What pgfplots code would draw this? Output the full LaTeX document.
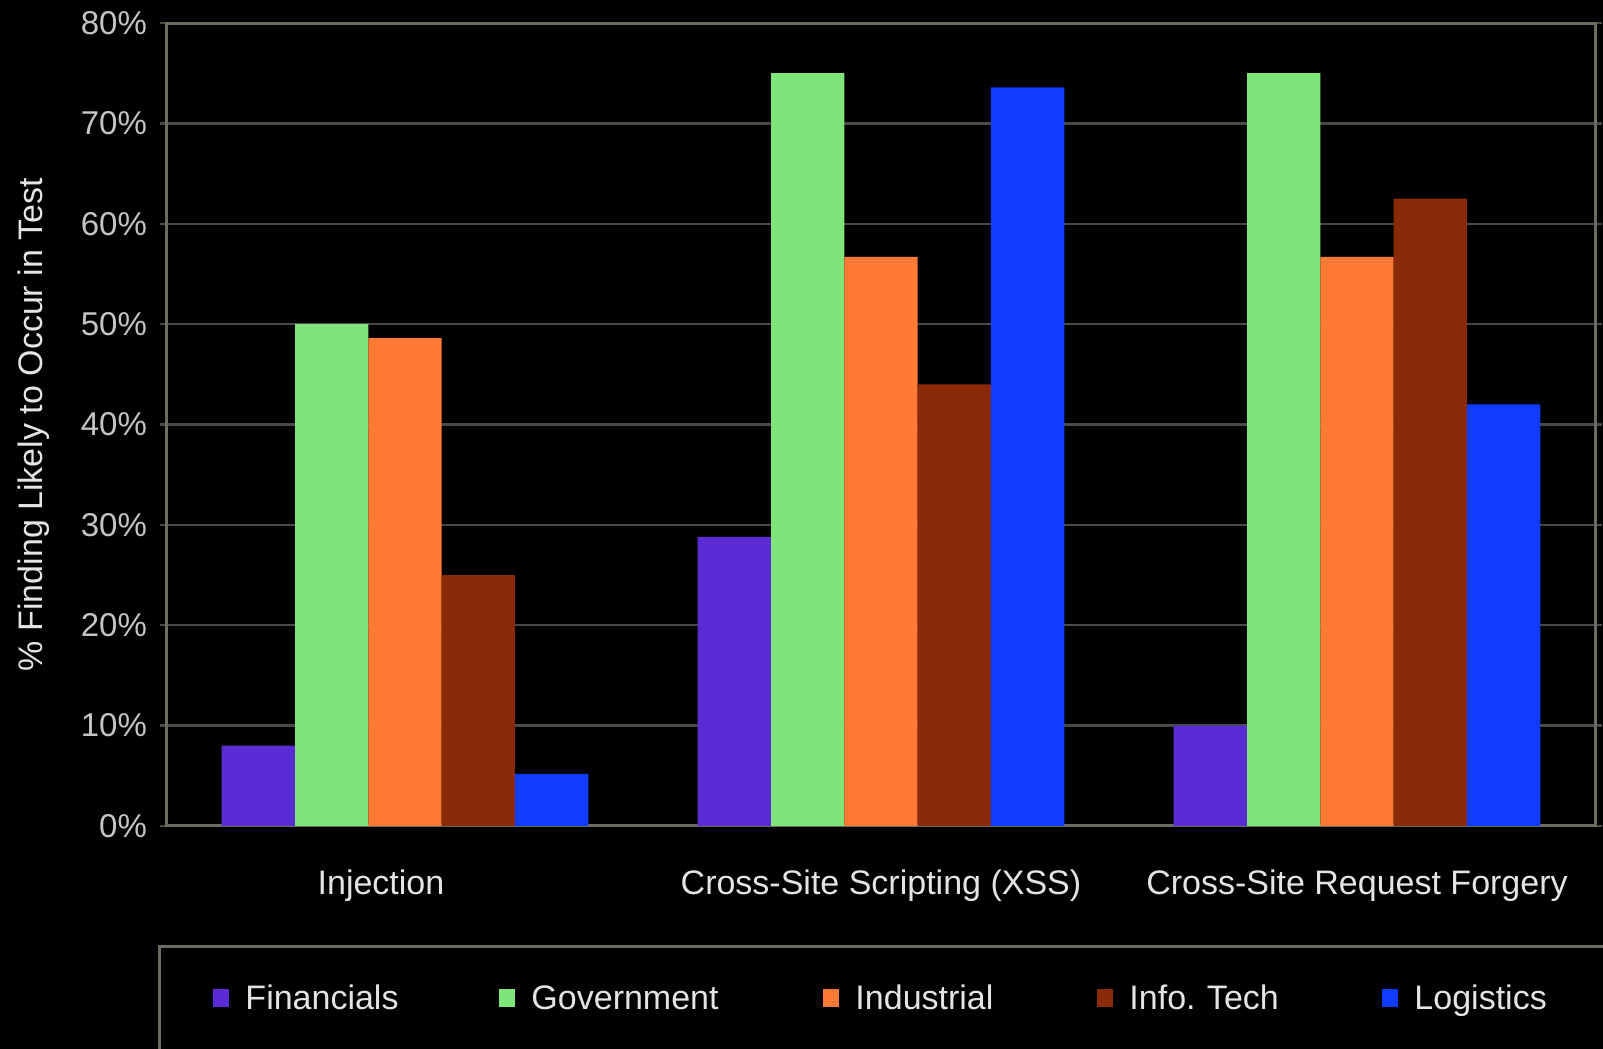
\documentclass[border=0pt]{standalone}
\usepackage{pgfplots}
\pgfplotsset{compat=1.18}
\usepackage{fontspec}
\setmainfont{Liberation Sans}
\frenchspacing
\definecolor{fin}{HTML}{5B2BD6}
\definecolor{gov}{HTML}{7FE57A}
\definecolor{ind}{HTML}{FF7B35}
\definecolor{itc}{HTML}{8A2A08}
\definecolor{log}{HTML}{0F3CFF}
\definecolor{gridc}{HTML}{4A4A42}
\definecolor{framec}{HTML}{6B6B62}
\definecolor{tickc}{HTML}{C4C4C4}
\definecolor{labc}{HTML}{E4E4E4}
\begin{document}
\begin{tikzpicture}
\fill[black] (-83.5pt,-111.5pt) rectangle (718pt,413pt);
\useasboundingbox (-83.5pt,-111.5pt) rectangle (718pt,413pt);
\begin{axis}[
  at={(0,0)}, anchor=south west,
  scale only axis, width=714pt, height=401.5pt,
  ymin=0, ymax=80, xmin=-0.5, xmax=2.5,
  ybar=0pt, bar width=0.154,
  xtick={0,1,2},
  xticklabels={\hspace*{-24pt}Injection, Cross-Site Scripting (XSS), Cross-Site Request Forgery},
  ytick={0,10,...,80},
  yticklabel={\pgfmathprintnumber{\tick}\%},
  /pgf/number format/assume math mode=true,
  ymajorgrids,
  grid style={color=gridc, line width=1.2pt},
  axis line style={color=framec, line width=1.5pt},
  tick align=outside,
  major tick length=3.5pt,
  ytick style={color=gridc, line width=1.2pt},
  xtick style={draw=none},
  yticklabel style={font=\fontsize{16.5}{19}\selectfont, text=tickc, xshift=-3pt},
  xticklabel style={font=\fontsize{17}{20}\selectfont, text=labc, yshift=-15pt},
  ylabel={\% Finding Likely to Occur in Test},
  every axis y label/.style={at={(axis description cs:-0.0935,0.5)}, rotate=90, anchor=center, font=\fontsize{17}{20}\selectfont, text=labc},
  legend columns=5,
  legend image code/.code={\fill[#1] (0pt,0pt) rectangle (8pt,9pt);},
  legend style={at={(axis description cs:-0.0063,-0.148)}, anchor=north west,
    draw=framec, line width=1.5pt, fill=black, text=labc,
    font=\fontsize{17}{20}\selectfont,
    column sep=8pt, inner xsep=27pt, inner ysep=17.5pt,
    nodes={inner xsep=0pt, inner ysep=2pt, text depth=9pt, anchor=west, align=left}},
]
\addplot[fill=fin, draw=none] coordinates {(0,8.0) (1,28.8) (2,10.0)};
\addlegendentry[text width=119pt]{Financials}
\addplot[fill=gov, draw=none] coordinates {(0,50.0) (1,75.0) (2,75.0)};
\addlegendentry[text width=138pt]{Government}
\addplot[fill=ind, draw=none] coordinates {(0,48.6) (1,56.7) (2,56.7)};
\addlegendentry[text width=113pt]{Industrial}
\addplot[fill=itc, draw=none] coordinates {(0,25.0) (1,44.0) (2,62.5)};
\addlegendentry[text width=118.5pt]{Info. Tech}
\addplot[fill=log, draw=none] coordinates {(0,5.2) (1,73.6) (2,42.0)};
\addlegendentry[text width=100pt]{Logistics}
\end{axis}
\end{tikzpicture}
\end{document}
